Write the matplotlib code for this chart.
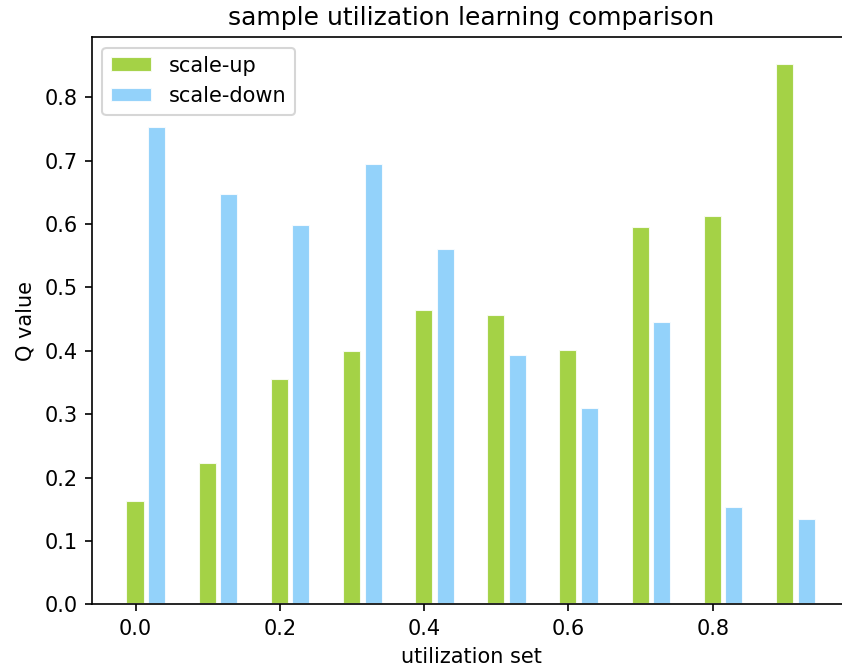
import matplotlib
matplotlib.use("Agg")
import matplotlib.pyplot as plt
import numpy as np

# utilization levels and Q values
utilization = [0.0, 0.1, 0.2, 0.3, 0.4, 0.5, 0.6, 0.7, 0.8, 0.9]
q_scale_up = [0.163, 0.223, 0.356, 0.399, 0.465, 0.457, 0.401, 0.595, 0.612, 0.852]
q_scale_down = [0.753, 0.648, 0.598, 0.694, 0.560, 0.394, 0.309, 0.445, 0.154, 0.134]

bar_width = 0.025
offset = 0.03

fig = plt.figure(figsize=(842 / 150, 671 / 150), dpi=150)
# right edge of the axes runs a little past the picture, as in the original crop
ax = fig.add_axes([0.1093, 0.0994, 0.9002, 0.845])

x = np.array(utilization)
ax.bar(x, q_scale_up, width=bar_width, color='yellowgreen', edgecolor='white',
       linewidth=1, alpha=0.9, label='scale-up')
ax.bar(x + offset, q_scale_down, width=bar_width, color='lightskyblue', edgecolor='white',
       linewidth=1, alpha=0.9, label='scale-down')

ax.set_title('sample utilization learning comparison')
ax.set_xlabel('utilization set')
ax.set_ylabel('Q value')
ax.legend(loc='upper left')

fig.savefig('out.png', dpi=150)
